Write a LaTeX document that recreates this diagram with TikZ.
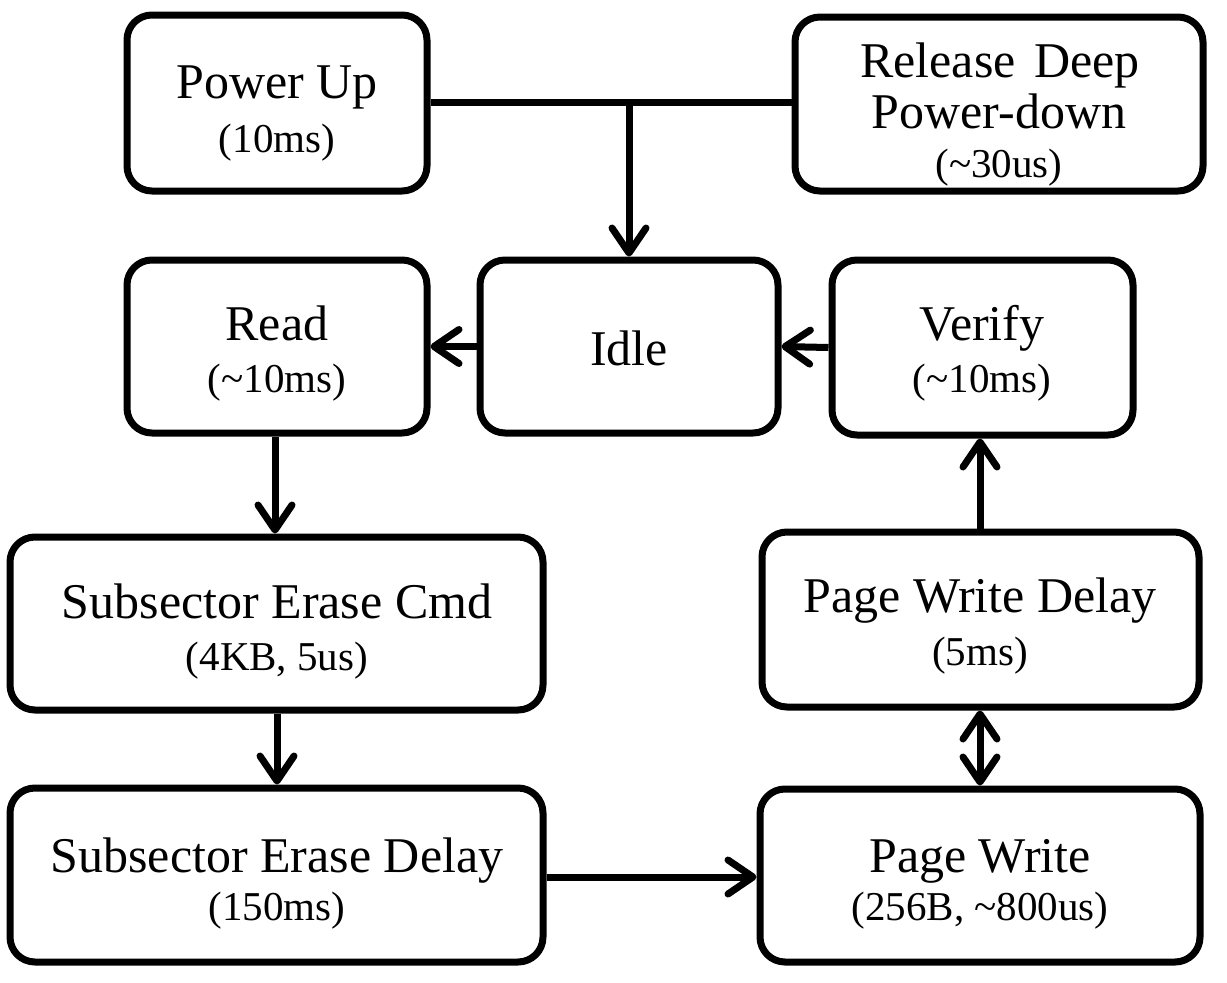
\documentclass[tikz,border=0pt]{standalone}
\usepackage{fontspec}
\setmainfont{Liberation Serif}
\usetikzlibrary{arrows.meta}
\tikzset{
  box/.style={draw, line width=7pt, rounded corners=25pt, inner sep=0pt},
  big/.style={font=\fontsize{50}{52}\selectfont, anchor=base, inner sep=0pt},
  small/.style={font=\fontsize{41}{44}\selectfont, anchor=base, inner sep=0pt},
  conn/.style={line width=7pt},
  arr/.style={conn, -{Straight Barb[length=25pt, width=34pt, line cap=round, line join=round]}},
  darr/.style={conn, {Straight Barb[length=25pt, width=34pt, line cap=round, line join=round]}-{Straight Barb[length=25pt, width=34pt, line cap=round, line join=round]}}
}
\begin{document}
\begin{tikzpicture}[x=1pt, y=-1pt]
\useasboundingbox (0,0) rectangle (1227,983);
% boxes
\node[box, minimum width=300pt, minimum height=176pt] (pu)   at (277,103)   {};
\node[box, minimum width=408pt, minimum height=174pt] (rdp)  at (999,104)   {};
\node[box, minimum width=300pt, minimum height=173pt] (read) at (277,346.5) {};
\node[box, minimum width=298pt, minimum height=173pt] (idle) at (629,346.5) {};
\node[box, minimum width=301pt, minimum height=175pt] (ver)  at (982.5,347.5) {};
\node[box, minimum width=533pt, minimum height=173pt] (sec)  at (276.5,623.5) {};
\node[box, minimum width=437pt, minimum height=175pt] (pwd)  at (980.5,619.5) {};
\node[box, minimum width=533pt, minimum height=174pt] (sed)  at (276.5,875) {};
\node[box, minimum width=440pt, minimum height=173pt] (pw)   at (980,875.5) {};
% texts
\node[big]   (pu1) at (277,98) {Power Up};
\node[small] (pu2) at (277,152) {(10ms)};
\node[big]   (rd1) at (1000,77) {Release\hspace{6pt} Deep};
\node[big]   (rd2) at (999,128) {Power-down};
\node[small] (rd3) at (999,177) {(\textasciitilde30us)};
\node[big]   (re1) at (277,340) {Read};
\node[small] (re2) at (277,392) {(\textasciitilde10ms)};
\node[big]   (id1) at (629,365) {Idle};
\node[big]   (ve1) at (982,340) {Verify};
\node[small] (ve2) at (982,392) {(\textasciitilde10ms)};
\node[big]   (sc1) at (277,618) {Subsector Erase Cmd};
\node[small] (sc2) at (277,670) {(4KB, 5us)};
\node[big]   (pd1) at (980,612) {Page Write Delay};
\node[small] (pd2) at (980,665) {(5ms)};
\node[big]   (sd1) at (277,872) {Subsector Erase Delay};
\node[small] (sd2) at (277,920) {(150ms)};
\node[big]   (pw1) at (980,872) {Page Write};
\node[small] (pw2) at (980,920) {(256B, \textasciitilde800us)};
% connectors
\coordinate (j) at (idle.north |- 0,102);
\draw[conn] (pu.east |- j) -- (rdp.west |- j);
\draw[arr] (j) -- (idle.north);
\draw[arr] (idle.west) -- (read.east);
\draw[arr] (ver.west) -- (idle.east);
\draw[arr] (read.south -| 275,0) -- (sec.north -| 275,0);
\draw[arr] (sec.south -| 277,0) -- (sed.north -| 277,0);
\draw[arr] (sed.east |- 0,877) -- (pw.west |- 0,877);
\draw[darr] (pwd.south -| 980,0) -- (pw.north -| 980,0);
\draw[arr] (pwd.north -| 980,0) -- (ver.south -| 980,0);
\end{tikzpicture}
\end{document}
